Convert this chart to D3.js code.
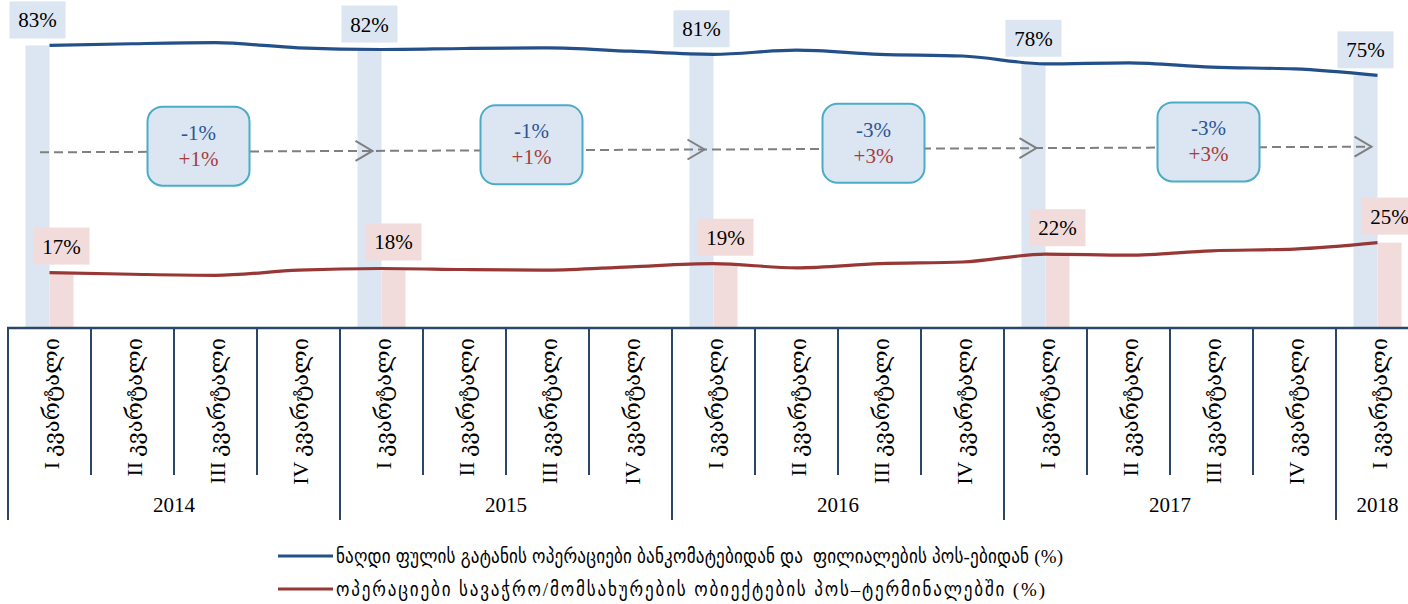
<!DOCTYPE html>
<meta charset="utf-8">
<style>
body {
  margin: 0;
  background: #fff;
}
svg {
  display: block;
  font-family: "Liberation Serif", "DejaVu Serif", serif;
}
.legend text {
  white-space: pre;
  font-family: "Liberation Serif", "DejaVu Sans Condensed", serif;
}
</style>
<body>
<script src="https://cdn.jsdelivr.net/npm/d3@7"></script>
<script>

var width = 1408,
    height = 604;

// quarters, left to right
var categories = [
  "I კვარტალი", "II კვარტალი", "III კვარტალი", "IV კვარტალი",
  "I კვარტალი", "II კვარტალი", "III კვარტალი", "IV კვარტალი",
  "I კვარტალი", "II კვარტალი", "III კვარტალი", "IV კვარტალი",
  "I კვარტალი", "II კვარტალი", "III კვარტალი", "IV კვარტალი",
  "I კვარტალი"
];
var years = ["2014", "2015", "2016", "2017", "2018"];
var quartersPerYear = [4, 4, 4, 4, 1];

// share of operations, %
var cashShare = [83.4, 83.9, 84.2, 82.7, 82.2, 82.5, 82.7, 81.7, 80.8, 82.0, 80.8, 80.3, 78.0, 78.3, 77.0, 76.5, 74.6];
var posShare  = [16.6, 16.1, 15.8, 17.3, 17.8, 17.5, 17.3, 18.3, 19.2, 18.0, 19.2, 19.7, 22.0, 21.7, 23.0, 23.5, 25.4];

var seriesNames = [
  "ნაღდი ფულის გატანის ოპერაციები ბანკომატებიდან და  ფილიალების პოს-ებიდან (%)",
  "ოპერაციები სავაჭრო/მომსახურების ობიექტების პოს–ტერმინალებში (%)"
];

var blue = "#24508a",
    red = "#983836",
    blueFill = "#dce6f2",
    redFill = "#f2dcdb",
    axisColor = "#2b4767",
    grey = "#7f7f7f";

var svg = d3.select("body").append("svg")
    .attr("width", width)
    .attr("height", height);

var x = d3.scaleBand()
    .domain(d3.range(categories.length))
    .range([8, 8 + categories.length * 83]);

var y = d3.scaleLinear()
    .domain([0, 100])
    .range([329, -11]);

function cx(i) { return x(i) + x.bandwidth() / 2; }

// only the first quarter of every year gets bars + labels
var firstQ = d3.range(categories.length).filter(function(i) { return categories[i].indexOf("I ") === 0; });

// bars
svg.selectAll(".barCash")
    .data(firstQ)
  .enter().append("rect")
    .attr("x", function(i) { return cx(i) - 24; })
    .attr("y", function(i) { return y(cashShare[i]); })
    .attr("width", 24)
    .attr("height", function(i) { return y(0) - y(cashShare[i]); })
    .attr("fill", blueFill);

svg.selectAll(".barPos")
    .data(firstQ)
  .enter().append("rect")
    .attr("x", function(i) { return cx(i); })
    .attr("y", function(i) { return y(posShare[i]); })
    .attr("width", 24)
    .attr("height", function(i) { return y(0) - y(posShare[i]); })
    .attr("fill", redFill);

// dashed arrow line across the middle
var arrowY = d3.scaleLinear().domain([40, 1372]).range([152.3, 146.7]);
var x0 = 40, x1 = cx(firstQ[firstQ.length - 1]) - 6;
svg.append("line")
    .attr("x1", x0).attr("y1", arrowY(x0))
    .attr("x2", x1).attr("y2", arrowY(x1))
    .attr("stroke", grey)
    .attr("stroke-width", 2)
    .attr("stroke-dasharray", "9,5");

svg.selectAll(".chev")
    .data(firstQ.slice(1))
  .enter().append("path")
    .attr("d", function(i, k) {
      var t = cx(i) - (k === firstQ.length - 2 ? 6 : 9), yy = arrowY(t);
      return "M" + (t - 17) + "," + (yy - 10) + "L" + t + "," + yy + "L" + (t - 17) + "," + (yy + 10);
    })
    .attr("fill", "none")
    .attr("stroke", grey)
    .attr("stroke-width", 2);

// change boxes between first quarters
var boxShift = [-17, -16, -6, -3];
var changes = d3.range(firstQ.length - 1).map(function(k) {
  var a = firstQ[k], b = firstQ[k + 1];
  return {
    cash: Math.round(cashShare[b]) - Math.round(cashShare[a]),
    pos: Math.round(posShare[b]) - Math.round(posShare[a]),
    mid: (cx(a) + cx(b)) / 2 + boxShift[k]
  };
});

var box = svg.selectAll(".chg")
    .data(changes)
  .enter().append("g")
    .attr("transform", function(d) { return "translate(" + d.mid + "," + (arrowY(d.mid) - 45) + ")"; });

box.append("rect")
    .attr("x", -51).attr("y", 0)
    .attr("width", 102).attr("height", 79)
    .attr("rx", 15)
    .attr("fill", blueFill)
    .attr("stroke", "#4bacc6")
    .attr("stroke-width", 2);

box.append("text")
    .attr("y", 33)
    .attr("text-anchor", "middle")
    .attr("font-size", 21)
    .attr("fill", "#2c5596")
    .text(function(d) { return (d.cash > 0 ? "+" : "") + d.cash + "%"; });

box.append("text")
    .attr("y", 59)
    .attr("text-anchor", "middle")
    .attr("font-size", 21)
    .attr("fill", "#a63c3c")
    .text(function(d) { return (d.pos > 0 ? "+" : "") + d.pos + "%"; });

// lines
var line = d3.line()
    .x(function(d, i) { return cx(i); })
    .y(function(d) { return y(d); })
    .curve(d3.curveMonotoneX);

svg.append("path")
    .attr("d", line(cashShare))
    .attr("fill", "none")
    .attr("stroke", blue)
    .attr("stroke-width", 3.2);

svg.append("path")
    .attr("d", line(posShare))
    .attr("fill", "none")
    .attr("stroke", red)
    .attr("stroke-width", 3.2);

// value labels
function addLabels(values, fill, dx, gap) {
  var g = svg.selectAll(null)
      .data(firstQ)
    .enter().append("g")
      .attr("transform", function(i) { return "translate(" + (cx(i) + dx) + "," + (y(values[i]) - gap) + ")"; });
  g.append("rect")
      .attr("x", -28).attr("y", -37)
      .attr("width", 56).attr("height", 37)
      .attr("fill", fill);
  g.append("text")
      .attr("y", -11)
      .attr("text-anchor", "middle")
      .attr("font-size", 21)
      .attr("fill", "#000")
      .text(function(i) { return Math.round(values[i]) + "%"; });
}
addLabels(cashShare, blueFill, -12, 7);
addLabels(posShare, redFill, 12, 8);

// category axis
var axisY = 328;
svg.append("line")
    .attr("x1", 7).attr("x2", width)
    .attr("y1", axisY).attr("y2", axisY)
    .attr("stroke", axisColor)
    .attr("stroke-width", 2.5);

var yearStart = d3.cumsum([0].concat(quartersPerYear.slice(0, -1)));

svg.selectAll(".tick")
    .data(d3.range(categories.length + 1))
  .enter().append("line")
    .attr("x1", function(i) { return i < categories.length ? x(i) : x(i - 1) + x.bandwidth(); })
    .attr("x2", function(i) { return i < categories.length ? x(i) : x(i - 1) + x.bandwidth(); })
    .attr("y1", axisY)
    .attr("y2", function(i) { return yearStart.indexOf(i) >= 0 || i === categories.length ? 520 : 475; })
    .attr("stroke", axisColor)
    .attr("stroke-width", 2);

svg.selectAll(".qlabel")
    .data(categories)
  .enter().append("text")
    .attr("transform", function(d, i) { return "translate(" + (cx(i) + 2) + ",338) rotate(-90)"; })
    .attr("text-anchor", "end")
    .attr("dy", "0.35em")
    .attr("font-size", 22)
    .attr("fill", "#000")
    .text(function(d) { return d; });

svg.selectAll(".ylabel")
    .data(years)
  .enter().append("text")
    .attr("x", function(d, k) {
      var a = yearStart[k], b = a + quartersPerYear[k] - 1;
      return (x(a) + x(b) + x.bandwidth()) / 2;
    })
    .attr("y", 512)
    .attr("text-anchor", "middle")
    .attr("font-size", 21)
    .attr("fill", "#000")
    .text(function(d) { return d; });

// legend
var legendWidth = [727, 709];
var legend = svg.selectAll(".legend")
    .data(seriesNames)
  .enter().append("g")
    .attr("class", "legend")
    .attr("transform", function(d, i) { return "translate(278," + (556 + i * 33) + ")"; });

legend.append("line")
    .attr("x1", 0).attr("x2", 55)
    .attr("stroke", function(d, i) { return i ? red : blue; })
    .attr("stroke-width", 3.2);

legend.append("text")
    .attr("x", 58)
    .attr("dy", "0.35em")
    .attr("font-size", 19)
    .attr("fill", "#000")
    .attr("textLength", function(d, i) { return legendWidth[i]; })
    .attr("lengthAdjust", "spacing")
    .text(function(d) { return d; });

</script>
